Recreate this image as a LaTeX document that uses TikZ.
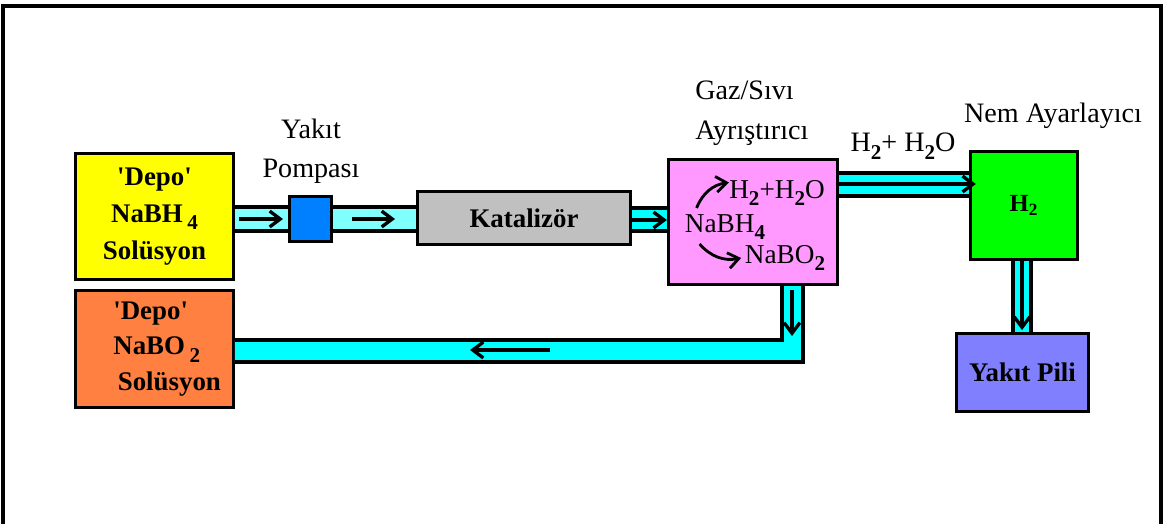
\documentclass[tikz,border=0pt]{standalone}
\usepackage{fontspec}
\setmainfont{Liberation Serif}
\usetikzlibrary{positioning, calc, arrows.meta}

\definecolor{depoyellow}{RGB}{255,255,0}
\definecolor{depoorange}{RGB}{255,128,64}
\definecolor{pumpblue}{RGB}{0,128,255}
\definecolor{katgray}{RGB}{192,192,192}
\definecolor{sepink}{RGB}{255,153,255}
\definecolor{nemgreen}{RGB}{0,255,0}
\definecolor{pilblue}{RGB}{128,128,255}
\definecolor{pipelight}{RGB}{128,255,255}
\definecolor{pipecyan}{RGB}{0,255,255}

\newcommand{\chemsub}[1]{\raisebox{-.6ex}{\fontsize{12}{12}\selectfont\bfseries #1}}

\begin{document}
\begin{tikzpicture}[
        x=0.02cm, y=-0.02cm,
        font=\fontsize{16}{22}\selectfont,
        unit/.style={
            draw,
            line width=1.9pt,
            inner sep=0pt,
            align=center,
            font=\fontsize{15.3}{21}\selectfont\bfseries
        },
        txt/.style={inner sep=0pt, align=center},
        wall/.style={line width=1.9pt},
        flow/.style={line width=1.9pt, -{Straight Barb[length=6pt,width=9pt]}}
    ]

        \useasboundingbox (0,0) rectangle (1165,524);

        % Frame (open at the bottom)
        \draw[line width=1.8pt] (3,524) -- (3,6) -- (1161,6) -- (1161,524);

        % Units
        \node[unit, fill=depoyellow, minimum width=3.15cm, minimum height=2.51cm] (depoBH) at (154.5,216.5)
            {\textquotesingle Depo\textquotesingle\\ NaBH\,\chemsub{4}\\ Solüsyon};
        \node[unit, fill=depoorange, minimum width=3.15cm, minimum height=2.33cm] (depoBO) at (154.5,349) {};
        \node[txt, font=\fontsize{15.3}{20}\selectfont\bfseries, align=left, anchor=west] (depoBOtxt) at (113,349)
            {\textquotesingle Depo\textquotesingle\\ NaBO\,\chemsub{2}\\ \,Solüsyon};
        \node[unit, fill=pumpblue, minimum width=0.84cm, minimum height=0.9cm] (pump) at (310.5,219) {};
        \node[unit, fill=katgray, minimum width=4.26cm, minimum height=1.06cm] (kat) at (524,218) {Katalizör};
        \node[unit, fill=sepink, minimum width=3.38cm, minimum height=2.5cm] (ayir) at (753,222) {};
        \node[unit, fill=nemgreen, minimum width=2.14cm, minimum height=2.16cm,
              font=\fontsize{14}{16}\selectfont\bfseries] (nem) at (1024,205.5) {H\textsubscript{2}};
        \node[unit, fill=pilblue, minimum width=2.64cm, minimum height=1.56cm] (pil) at (1022.5,372.5) {Yakıt Pili};

        % Labels
        \node[txt] (pumptxt) at (311,151) {Yakıt\\ Pompası};
        \node[txt, align=left, anchor=west, font=\fontsize{16}{23}\selectfont] (ayirtxt) at (695,113) {Gaz/Sıvı\\ Ayrıştırıcı};
        \node[txt] (nemtxt) at (1053,116) {Nem Ayarlayıcı};
        \node[txt] (gastxt) at (903,146) {H\chemsub{2}+ H\chemsub{2}O};

        % Reaction inside the separator
        \node[txt, font=\fontsize{15.5}{20}\selectfont] (hh) at (777,193) {H\chemsub{2}+H\chemsub{2}O};
        \node[txt, font=\fontsize{15.5}{20}\selectfont] (nabh) at (725,227) {NaBH\chemsub{4}};
        \node[txt, font=\fontsize{15.5}{20}\selectfont] (nabo) at (785,258) {NaBO\chemsub{2}};
        \draw[flow, line width=1.6pt] (nabh.north west) ++(12,-6) to[bend left=30] ([yshift=6pt]hh.west);
        \draw[flow, line width=1.6pt] (nabh.south west) ++(15,4) to[bend right=30] ([xshift=-2pt]nabo.west);

        % Pipe: depo -> pump
        \fill[pipelight] (depoBH.east |- 0,207) rectangle (pump.west |- 0,231);
        \draw[wall] (depoBH.east |- 0,207) -- (pump.west |- 0,207)
                    (depoBH.east |- 0,231) -- (pump.west |- 0,231);
        \draw[flow] (239,219) -- (283,219);

        % Pipe: pump -> katalizor
        \fill[pipelight] (pump.east |- 0,207) rectangle (kat.west |- 0,231);
        \draw[wall] (pump.east |- 0,207) -- (kat.west |- 0,207)
                    (pump.east |- 0,231) -- (kat.west |- 0,231);
        \draw[flow] (352,219) -- (395,219);

        % Pipe: katalizor -> separator
        \fill[pipecyan] (kat.east |- 0,208) rectangle (ayir.west |- 0,231);
        \draw[wall] (kat.east |- 0,208) -- (ayir.west |- 0,208)
                    (kat.east |- 0,231) -- (ayir.west |- 0,231);
        \draw[flow] (kat.east |- 0,220) -- (ayir.west |- 0,220);

        % Pipe: separator -> nem ayarlayici
        \fill[pipecyan] (ayir.east |- 0,173) rectangle (nem.west |- 0,196);
        \draw[wall] (ayir.east |- 0,173) -- (nem.west |- 0,173)
                    (ayir.east |- 0,196) -- (nem.west |- 0,196);
        \draw[flow] (ayir.east |- 0,184) -- ([xshift=4pt]nem.west |- 0,184);

        % Pipe: nem ayarlayici -> yakit pili
        \fill[pipecyan] (nem.south -| 1013,0) rectangle (pil.north -| 1031,0);
        \draw[wall] (nem.south -| 1013,0) -- (pil.north -| 1013,0)
                    (nem.south -| 1031,0) -- (pil.north -| 1031,0);
        \draw[flow] (nem.south -| 1022,0) -- ([yshift=1pt]pil.north -| 1022,0);

        % Return pipe: separator -> depo NaBO2
        \coordinate (rin) at (782,340);
        \coordinate (rout) at (803,362);
        \fill[pipecyan] (ayir.south -| rin) -- (ayir.south -| rout) -- (rout) -- (depoBO.east |- rout)
            -- (depoBO.east |- rin) -- (rin) -- cycle;
        \draw[wall] (ayir.south -| rin) -- (rin) -- (depoBO.east |- rin);
        \draw[wall] (ayir.south -| rout) -- (rout) -- (depoBO.east |- rout);
        \draw[flow] (792,290) -- (792,336);
        \draw[flow] (550,350) -- (470,350);

    \end{tikzpicture}
\end{document}
